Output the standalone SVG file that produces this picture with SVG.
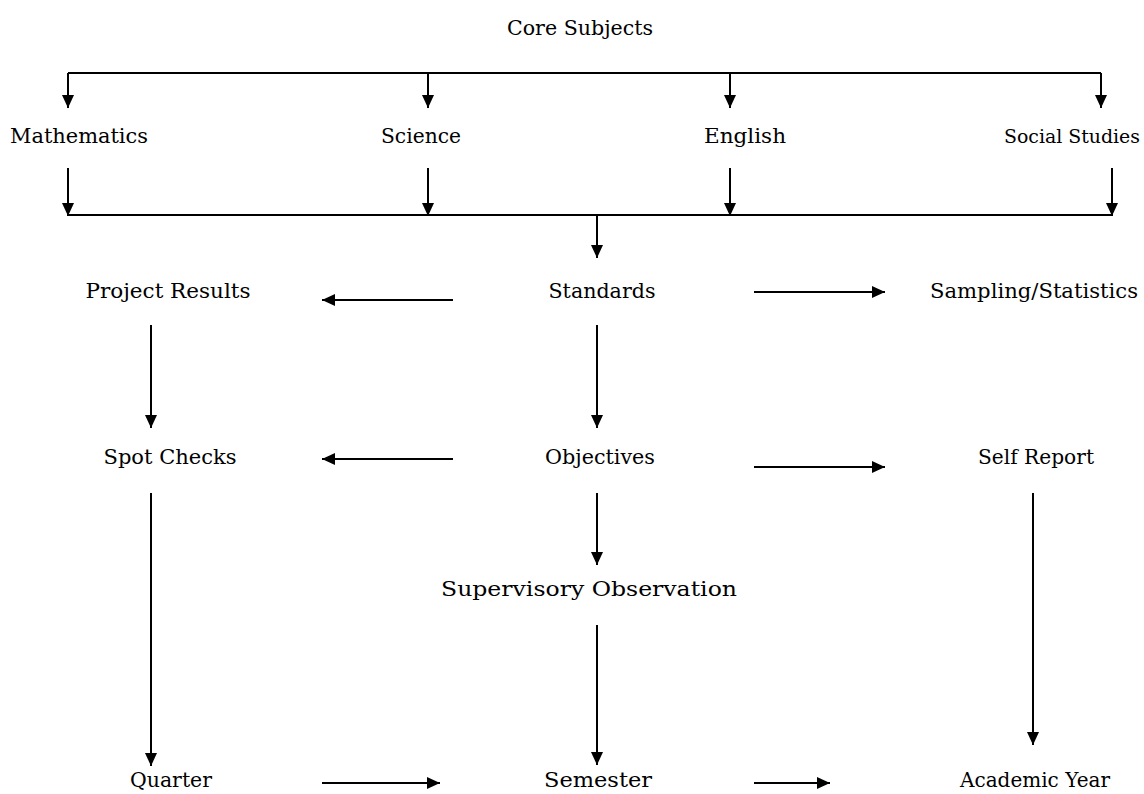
<svg xmlns="http://www.w3.org/2000/svg" width="1144" height="794" viewBox="0 0 1144 794">
<style>
text{font-family:"DejaVu Serif","Liberation Serif",serif;font-size:21px;fill:#000;text-anchor:middle}
.c line{stroke:#000;stroke-width:2;fill:none}
</style>
<defs>
<marker id="ah" markerUnits="userSpaceOnUse" markerWidth="14" markerHeight="12" refX="13" refY="6" orient="auto">
<path d="M0,0 L13,6 L0,12 z" fill="#000"/>
</marker>
</defs>
<rect width="1144" height="794" fill="#fff"/>
<g class="c" id="connectors">
<line x1="68" y1="73" x2="1101" y2="73"/>
<line x1="68" y1="73" x2="68" y2="108" marker-end="url(#ah)"/>
<line x1="428" y1="73" x2="428" y2="108" marker-end="url(#ah)"/>
<line x1="730" y1="73" x2="730" y2="108" marker-end="url(#ah)"/>
<line x1="1101" y1="73" x2="1101" y2="108" marker-end="url(#ah)"/>
<line x1="68" y1="168" x2="68" y2="216" marker-end="url(#ah)"/>
<line x1="428" y1="168" x2="428" y2="216" marker-end="url(#ah)"/>
<line x1="730" y1="168" x2="730" y2="216" marker-end="url(#ah)"/>
<line x1="1112" y1="168" x2="1112" y2="216" marker-end="url(#ah)"/>
<line x1="68" y1="215" x2="1112" y2="215"/>
<line x1="597" y1="215" x2="597" y2="258" marker-end="url(#ah)"/>
<line x1="453" y1="300" x2="322" y2="300" marker-end="url(#ah)"/>
<line x1="754" y1="292" x2="885" y2="292" marker-end="url(#ah)"/>
<line x1="151" y1="325" x2="151" y2="428" marker-end="url(#ah)"/>
<line x1="597" y1="325" x2="597" y2="428" marker-end="url(#ah)"/>
<line x1="453" y1="459" x2="322" y2="459" marker-end="url(#ah)"/>
<line x1="754" y1="467" x2="885" y2="467" marker-end="url(#ah)"/>
<line x1="151" y1="493" x2="151" y2="766" marker-end="url(#ah)"/>
<line x1="597" y1="493" x2="597" y2="565" marker-end="url(#ah)"/>
<line x1="597" y1="625" x2="597" y2="765" marker-end="url(#ah)"/>
<line x1="1033" y1="493" x2="1033" y2="745" marker-end="url(#ah)"/>
<line x1="322" y1="783" x2="440" y2="783" marker-end="url(#ah)"/>
<line x1="754" y1="783" x2="830" y2="783" marker-end="url(#ah)"/>
</g>
<g id="core"><text x="580" y="35" textLength="146" lengthAdjust="spacingAndGlyphs">Core Subjects</text></g>
<g id="math"><text x="79" y="143" textLength="138" lengthAdjust="spacingAndGlyphs">Mathematics</text></g>
<g id="science"><text x="421" y="143" textLength="80" lengthAdjust="spacingAndGlyphs">Science</text></g>
<g id="english"><text x="745" y="143" textLength="82" lengthAdjust="spacingAndGlyphs">English</text></g>
<g id="social"><text x="1072" y="143" style="font-size:19px" textLength="136" lengthAdjust="spacingAndGlyphs">Social Studies</text></g>
<g id="standards"><text x="602" y="298" textLength="107" lengthAdjust="spacingAndGlyphs">Standards</text></g>
<g id="project"><text x="168" y="298" textLength="165" lengthAdjust="spacingAndGlyphs">Project Results</text></g>
<g id="sampling"><text x="1034" y="298" style="font-size:20px" textLength="208" lengthAdjust="spacingAndGlyphs">Sampling/Statistics</text></g>
<g id="spot"><text x="170" y="464" textLength="133" lengthAdjust="spacingAndGlyphs">Spot Checks</text></g>
<g id="objectives"><text x="600" y="464" textLength="110" lengthAdjust="spacingAndGlyphs">Objectives</text></g>
<g id="self"><text x="1036" y="464" textLength="116" lengthAdjust="spacingAndGlyphs">Self Report</text></g>
<g id="supervisory"><text x="589" y="596" textLength="296" lengthAdjust="spacingAndGlyphs">Supervisory Observation</text></g>
<g id="quarter"><text x="171" y="787" textLength="82" lengthAdjust="spacingAndGlyphs">Quarter</text></g>
<g id="semester"><text x="598" y="787" textLength="108" lengthAdjust="spacingAndGlyphs">Semester</text></g>
<g id="academic"><text x="1035" y="787" textLength="150" lengthAdjust="spacingAndGlyphs">Academic Year</text></g>
</svg>
